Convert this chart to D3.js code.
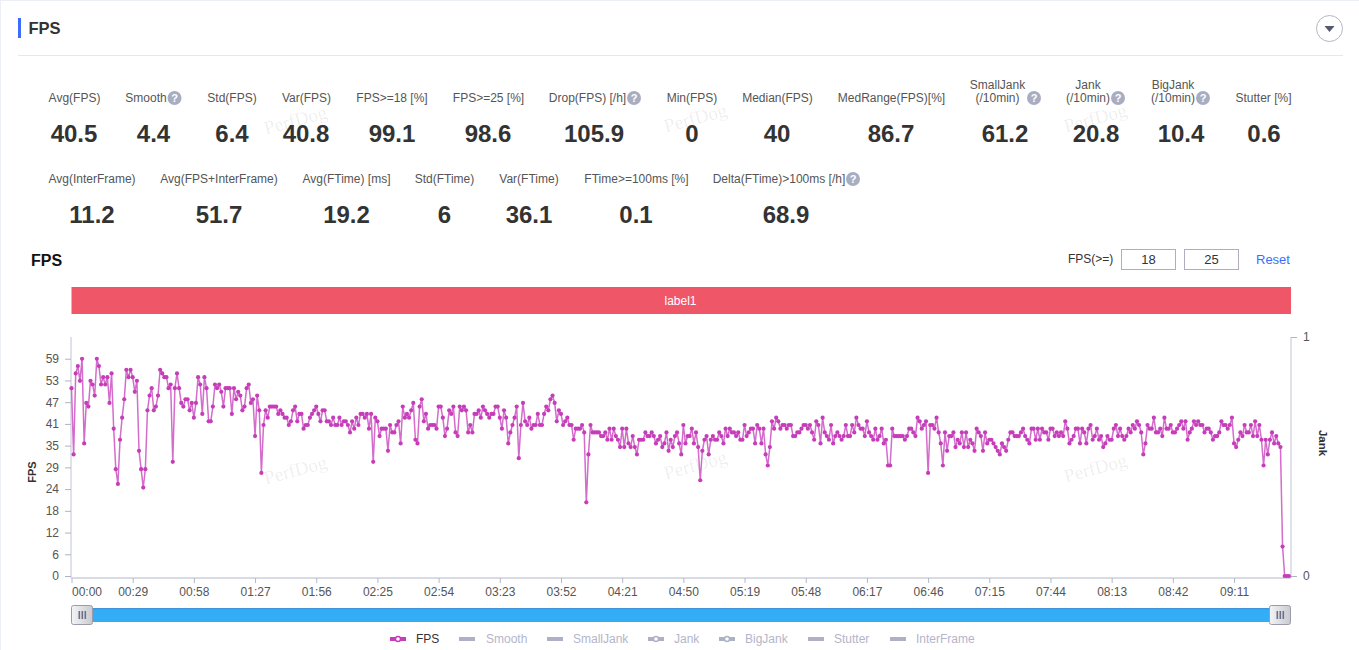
<!DOCTYPE html>
<html>
<head>
<meta charset="utf-8">
<script src="https://cdnjs.cloudflare.com/ajax/libs/d3/7.8.5/d3.min.js"></script>
<style>
html,body{margin:0;padding:0;background:#fff;overflow:hidden}
svg{display:block}
text{font-family:"Liberation Sans",Arial,sans-serif}
</style>
</head>
<body>
<svg id="c" width="1359" height="650"></svg>
<script>
// ---------- data ----------
const fpsValues = [
51,33,55,57,53,59,36,47,46,53,52,49,59,57,52,54,52,54,47,55,
40,29,25,37,43,48,56,54,56,54,50,53,34,29,24,29,45,49,51,45,
46,49,56,55,54,54,51,52,31,51,55,51,47,46,48,48,45,47,43,47,
54,52,44,54,51,42,42,46,52,51,52,50,46,51,51,51,44,51,48,50,
49,45,46,51,52,47,48,38,49,45,28,41,45,43,46,46,46,46,44,45,
44,43,43,41,42,45,46,42,44,44,40,41,41,43,44,45,46,44,42,45,
45,42,42,41,43,41,41,43,41,42,42,41,39,42,40,43,41,44,44,43,
44,40,44,31,43,42,38,40,40,40,34,41,39,39,41,42,36,46,43,44,
43,45,47,37,36,46,48,42,44,40,41,41,41,40,46,46,43,38,40,45,
44,46,39,38,46,45,46,45,39,41,39,44,44,45,43,46,45,44,43,44,
44,46,46,43,40,45,43,36,39,41,43,46,32,41,47,42,41,43,40,41,
41,44,41,41,44,46,45,48,49,47,42,45,44,41,42,43,41,41,37,40,
40,40,41,39,20,33,41,39,39,39,39,38,38,39,37,40,37,40,38,37,
35,40,35,40,36,35,38,35,33,37,37,37,39,38,38,39,38,36,37,38,
35,36,39,34,37,35,38,39,36,33,41,36,38,38,40,36,39,35,26,34,
37,38,33,37,38,37,37,39,38,36,40,38,40,39,39,38,39,37,37,41,
38,39,40,40,36,41,40,36,40,33,30,35,42,40,43,42,40,41,41,40,
41,41,38,38,39,39,40,41,41,40,41,39,37,42,41,36,43,39,38,37,
41,36,38,39,38,37,38,41,38,38,41,39,43,41,40,40,38,42,39,38,
37,40,37,38,40,36,37,30,30,40,38,38,38,38,38,37,38,40,40,39,
38,43,42,40,41,42,28,41,41,40,43,39,36,30,39,34,38,38,39,35,
37,36,39,35,39,35,37,36,34,40,39,38,34,39,36,37,37,36,35,34,
33,36,35,34,37,39,39,38,38,38,39,40,38,37,36,40,40,37,40,37,
40,39,39,37,40,40,38,39,38,39,38,42,40,36,37,38,40,40,36,40,
39,36,40,41,37,38,40,37,38,35,36,38,37,37,40,41,38,40,38,37,
38,40,39,41,40,42,41,39,33,36,41,40,40,43,39,39,40,38,43,40,
40,41,39,39,40,41,42,40,42,37,39,40,42,41,42,41,41,39,40,40,
39,37,38,38,39,42,41,41,40,41,43,36,35,37,39,38,41,39,39,41,
38,42,38,41,37,30,37,33,37,39,36,38,36,35,8,0,0,0
];
const xTickLabels = ["00:00","00:29","00:58","01:27","01:56","02:25","02:54","03:23","03:52","04:21","04:50","05:19","05:48","06:17","06:46","07:15","07:44","08:13","08:42","09:11"];
const xTickStep = 29;
const yTickLabels = ["0","6","12","18","24","29","35","41","47","53","59"];
const yTickStep = 5.9;
const yAxisMax = 64.9;
const jankTicks = [0,1];
const legendNames = ["FPS","Smooth","SmallJank","Jank","BigJank","Stutter","InterFrame"];
const metricLabelsA = ["Avg(FPS)","Smooth","Std(FPS)","Var(FPS)","FPS>=18 [%]","FPS>=25 [%]","Drop(FPS) [/h]","Min(FPS)","Median(FPS)","MedRange(FPS)[%]","SmallJank","Jank","BigJank","Stutter [%]"];
const metricValuesA = ["40.5","4.4","6.4","40.8","99.1","98.6","105.9","0","40","86.7","61.2","20.8","10.4","0.6"];
const metricLabelsB = ["Avg(InterFrame)","Avg(FPS+InterFrame)","Avg(FTime) [ms]","Std(FTime)","Var(FTime)","FTime>=100ms [%]","Delta(FTime)>100ms [/h]"];
const metricValuesB = ["11.2","51.7","19.2","6","36.1","0.1","68.9"];
const bandLabel = "label1";
const thresholds = ["18","25"];

// ---------- layout (separate from data) ----------
const colsA = [74,153.5,232,306,392,488,594,692,777,891,1005,1096,1181,1264];
const labelXA = [74.5,146,232,306.5,392,488.5,587.5,692,777.5,891.5,997.5,1088,1173,1263.5];
const colsB = [92,219,346.5,444.5,529,636,786];
const labelXB = [92,219,346.5,444.5,529,636.5,779];
const legendIconX = [390,459,547,648,719,808,890];
const legendTextX = [416,486,573,674,745,834,916];
const legendDot = [true,false,false,true,true,false,false];
const watermarks = [[296,122],[696,120],[1096,120],[296,472],[696,467],[1096,470]];

const svg = d3.select("#c");
const ink = "#333", sub="#555", blue="#3d6dff", magenta="#c63db9", grayLeg="#aeb1c5";

// page frame
svg.append("rect").attr("width",1359).attr("height",650).attr("fill","#fff");
svg.append("rect").attr("x",0).attr("y",0).attr("width",1359).attr("height",1).attr("fill","#eceef8");
svg.append("rect").attr("x",0).attr("y",0).attr("width",1).attr("height",650).attr("fill","#eceef8");

// watermark
svg.append("g").selectAll("text").data(watermarks).join("text")
  .attr("transform",d=>`translate(${d[0]},${d[1]}) rotate(-15)`)
  .attr("text-anchor","middle").attr("dominant-baseline","middle")
  .style("font-family","'Liberation Serif',serif").attr("font-size",19)
  .attr("fill","#000").attr("fill-opacity",0.08).text("PerfDog");

// header
svg.append("rect").attr("x",18).attr("y",18).attr("width",3).attr("height",20).attr("fill",blue);
svg.append("text").attr("x",28.5).attr("y",34).attr("font-size",16.5).attr("font-weight","bold").attr("fill",ink).text("FPS");
svg.append("rect").attr("x",18).attr("y",55).attr("width",1325).attr("height",1).attr("fill","#e6e7ef");
svg.append("circle").attr("cx",1329.5).attr("cy",28.5).attr("r",13).attr("fill","#fff").attr("stroke","#b4b6c6");
svg.append("path").attr("d","M1324.5 26 H1334.5 L1329.5 32 Z").attr("fill","#55586e");

// metrics
function help(cx,cy){
  const g=svg.append("g");
  g.append("circle").attr("cx",cx).attr("cy",cy).attr("r",7).attr("fill","#a9adc2");
  g.append("text").attr("x",cx).attr("y",cy+4).attr("text-anchor","middle").attr("font-size",11).attr("font-weight","bold").attr("fill","#fff").text("?");
}
const lab = (x,y,t)=>svg.append("text").attr("x",x).attr("y",y).attr("text-anchor","middle").attr("font-size",12).attr("fill",sub).text(t);
metricLabelsA.forEach((t,i)=>{
  if(i>=10&&i<=12){ lab(labelXA[i],89,t); lab(labelXA[i],102,"(/10min)"); }
  else lab(labelXA[i],102,t);
});
svg.append("g").selectAll("text").data(metricValuesA).join("text")
  .attr("x",(d,i)=>colsA[i]).attr("y",142).attr("text-anchor","middle")
  .attr("font-size",24).attr("font-weight","bold").attr("fill",ink).text(d=>d);
[[174.5,98],[634,98],[1034,98],[1118,98],[1203,98]].forEach(p=>help(p[0],p[1]));
metricLabelsB.forEach((t,i)=>lab(labelXB[i],183,t));
svg.append("g").selectAll("text").data(metricValuesB).join("text")
  .attr("x",(d,i)=>colsB[i]).attr("y",223).attr("text-anchor","middle")
  .attr("font-size",24).attr("font-weight","bold").attr("fill",ink).text(d=>d);
help(853,179);

// chart title + controls
svg.append("text").attr("x",31).attr("y",265.5).attr("font-size",16).attr("font-weight","bold").attr("fill","#111").text("FPS");
svg.append("text").attr("x",1068).attr("y",263).attr("font-size",12).attr("fill",ink).text("FPS(>=)");
[1121.5,1184.5].forEach((x,i)=>{
  svg.append("rect").attr("x",x).attr("y",249.5).attr("width",54).attr("height",20).attr("fill","#fff").attr("stroke","#adaec0");
  svg.append("text").attr("x",x+27).attr("y",264).attr("text-anchor","middle").attr("font-size",13).attr("fill",ink).text(thresholds[i]);
});
svg.append("text").attr("x",1256).attr("y",264).attr("font-size",13).attr("fill",blue).text("Reset");

// scales
const plotL=71.5, plotR=1291, plotT=337, plotB=576, axisY=578;
const x = d3.scaleLinear().domain([0,578]).range([plotL,plotR]);
const y = d3.scaleLinear().domain([0,yAxisMax]).range([plotB,plotT]);
const yR = d3.scaleLinear().domain([0,1]).range([plotB,plotT]);

// label band
svg.append("rect").attr("x",plotL).attr("y",287).attr("width",plotR-plotL).attr("height",27).attr("fill","#ef5667");
svg.append("text").attr("x",680.5).attr("y",305).attr("text-anchor","middle").attr("font-size",12).attr("fill","#fff").text(bandLabel);

// axes
const styleAxis=(g,lineCol,tickCol)=>{
  g.select(".domain").attr("stroke",lineCol);
  g.selectAll(".tick line").attr("stroke",tickCol);
  g.selectAll(".tick text").attr("fill",sub).attr("font-size",12).style("font-family","'Liberation Sans',Arial,sans-serif");
};
const gL = svg.append("g").attr("transform",`translate(${plotL-0.5},0)`)
  .call(d3.axisLeft(y).tickValues(yTickLabels.map((_,i)=>i*yTickStep)).tickFormat((d,i)=>yTickLabels[i]).tickSize(6).tickPadding(6));
styleAxis(gL,"#d6d8e3","#b0b3c6");
gL.select(".domain").attr("stroke-width",1.5).attr("d",`M0,${plotT}V${axisY}`);
const gR = svg.append("g").attr("transform",`translate(${plotR},0)`)
  .call(d3.axisRight(yR).tickValues(jankTicks).tickFormat(d3.format("d")).tickSize(6).tickPadding(6));
styleAxis(gR,"#d6d8e3","#b0b3c6");
gR.select(".domain").attr("stroke-width",1.5).attr("d",`M0,${plotT}V${axisY}`);
const gB = svg.append("g").attr("transform",`translate(0,${axisY})`)
  .call(d3.axisBottom(x).tickValues(xTickLabels.map((_,i)=>i*xTickStep)).tickFormat((d,i)=>xTickLabels[i]).tickSize(5).tickPadding(4));
styleAxis(gB,"#b4b7c9","#b4b7c9");
gB.select(".domain").attr("d",`M${plotL},0H${plotR}`);
gB.selectAll(".tick text").filter((d,i)=>i===0).attr("text-anchor","start");

svg.append("text").attr("transform","translate(36,472) rotate(-90)").attr("text-anchor","middle").attr("font-size",11).attr("font-weight","bold").attr("fill",ink).text("FPS");
svg.append("text").attr("transform","translate(1319,443) rotate(90)").attr("text-anchor","middle").attr("font-size",11.5).attr("font-weight","bold").attr("fill",ink).text("Jank");

// series
const line = d3.line().x((d,i)=>x(i)).y(d=>y(d));
svg.append("path").datum(fpsValues).attr("d",line).attr("fill","none").attr("stroke","#d46ccc").attr("stroke-width",1.5).attr("stroke-linejoin","round");
svg.append("g").selectAll("circle").data(fpsValues).join("circle")
  .attr("cx",(d,i)=>x(i)).attr("cy",d=>y(d)).attr("r",2.1).attr("fill",magenta);

// data zoom slider
const slT=608, slH=14;
const grad = svg.append("defs").append("linearGradient").attr("id","sl").attr("x1",0).attr("x2",0).attr("y1",0).attr("y2",1);
grad.append("stop").attr("offset",0).attr("stop-color","#3f8fd0");
grad.append("stop").attr("offset",0.15).attr("stop-color","#34adf7");
grad.append("stop").attr("offset",1).attr("stop-color","#34adf7");
svg.append("rect").attr("x",plotL).attr("y",slT).attr("width",plotR-plotL).attr("height",slH).attr("fill","url(#sl)");
const hGrad = svg.select("defs").append("linearGradient").attr("id","hd").attr("x1",0).attr("x2",1).attr("y1",0).attr("y2",0);
hGrad.append("stop").attr("offset",0).attr("stop-color","#f4f4f6");
hGrad.append("stop").attr("offset",1).attr("stop-color","#c9cad1");
[plotL,plotR-21.5].forEach(hx=>{
  svg.append("rect").attr("x",hx).attr("y",605.5).attr("width",21).attr("height",19).attr("rx",2).attr("fill","url(#hd)").attr("stroke","#9a9cac");
  [7,10,13].forEach(o=>svg.append("rect").attr("x",hx+o).attr("y",611).attr("width",1.6).attr("height",8).attr("fill","#6d7088"));
});

// legend
legendNames.forEach((n,i)=>{
  const on=i===0, col=on?magenta:grayLeg;
  svg.append("rect").attr("x",legendIconX[i]).attr("y",637).attr("width",16).attr("height",4).attr("fill",col);
  if(legendDot[i]) svg.append("circle").attr("cx",legendIconX[i]+8).attr("cy",639).attr("r",2.5).attr("fill","#fff").attr("stroke",col).attr("stroke-width",1.4);
  svg.append("text").attr("x",legendTextX[i]).attr("y",643).attr("font-size",12).attr("fill",on?ink:"#b3b5c9").text(n);
});
</script>
</body>
</html>
